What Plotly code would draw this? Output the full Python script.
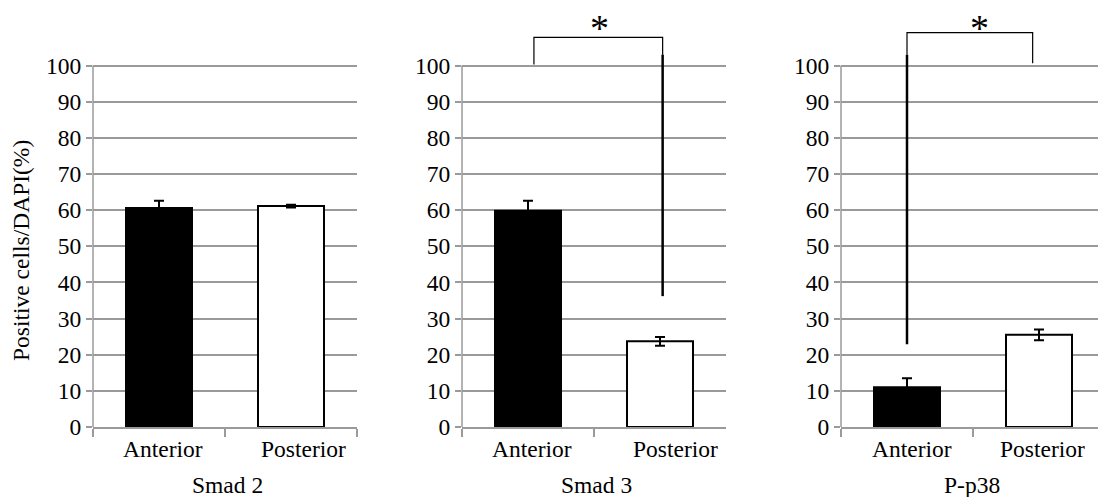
import plotly.graph_objects as go

# ---- data ----
categories = ["Anterior", "Posterior"]
panel_titles = ["Smad 2", "Smad 3", "P-p38"]
smad2_mean = [60.6, 61.1]
smad2_err = [2.0, 0.4]
smad3_mean = [59.8, 23.7]
smad3_err = [2.8, 1.2]
pp38_mean = [11.0, 25.5]
pp38_err = [2.5, 1.5]
y_ticks = [0, 10, 20, 30, 40, 50, 60, 70, 80, 90, 100]
y_title = "Positive cells/DAPI(%)"

# significance brackets: (x_left, x_right, y_top, y_left_bottom, y_right_bottom)
smad3_bracket = [0.045, 1.02, 107.8, 100.3, 103.0]
pp38_bracket = [0.0, 0.952, 109.1, 103.0, 100.6]
# stray vertical strokes: (x, y_top, y_bottom)
smad3_stroke = [1.02, 103.0, 36.2]
pp38_stroke = [0.0, 103.0, 22.9]
# asterisk positions (x, y)
smad3_star = [0.545, 110.5]
pp38_star = [0.551, 110.3]
# small stray dots (x, y, size)
pp38_dots_x = [0.242, 0.473]
pp38_dots_y = [105.6, 102.4]
pp38_dots_size = [2, 4]

means = [smad2_mean, smad3_mean, pp38_mean]
errs = [smad2_err, smad3_err, pp38_err]

FONT = "Liberation Serif"
FS = 23.5
GRID = "#9a9a9a"
W, H = 1098, 497
PLOT_H = 427
PX_PER_UNIT = 3.615
YMAX = PLOT_H / PX_PER_UNIT

domains = [[93 / W, 357 / W], [462 / W, 726 / W], [841 / W, 1.0]]
xranges = [[-0.5, 1.5], [-0.5, 1.5], [-0.5, 1.5 - 7 / 132]]
label_shift = [[4, 12], [4, 15], [5, 3]]

fig = go.Figure()
for i in range(3):
    ax = "" if i == 0 else str(i + 1)
    fig.add_trace(go.Bar(
        x=categories, y=means[i],
        xaxis="x" + ax, yaxis="y" + ax,
        width=0.5,
        marker=dict(color=["black", "white"], line=dict(color="black", width=2)),
        error_y=dict(type="data", array=errs[i], color="black", thickness=2, width=5),
        showlegend=False,
    ))
    fig.update_layout(**{
        "xaxis" + ax: dict(
            domain=domains[i], anchor="y" + ax, type="category",
            range=xranges[i], showline=True, linecolor=GRID, linewidth=1.5,
            ticks="outside", tickson="boundaries", ticklen=8, tickcolor=GRID, tickwidth=1.5,
            showgrid=False, showticklabels=False,
            fixedrange=True,
        ),
        "yaxis" + ax: dict(
            domain=[0, 1], anchor="x" + ax, range=[0, YMAX],
            tickmode="array", tickvals=y_ticks,
            showgrid=True, gridcolor=GRID, gridwidth=1.5,
            showline=False, zeroline=False,
            ticks="outside", ticklen=6, tickcolor=GRID, tickwidth=1.5,
            tickfont=dict(family=FONT, size=FS, color="black"),
            fixedrange=True,
        ),
    })
    # left axis line up to 100
    fig.add_shape(type="line", xref="x" + ax + " domain", yref="y" + ax,
                  x0=0, x1=0, y0=0, y1=100, line=dict(color=GRID, width=1.5))
    # category labels
    for c, cat in enumerate(categories):
        fig.add_annotation(text=cat, xref="x" + ax, yref="paper", x=cat,
                           y=(PLOT_H - 448.5) / PLOT_H, xanchor="center", yanchor="middle",
                           xshift=label_shift[i][c], showarrow=False,
                           font=dict(family=FONT, size=FS, color="black"))
    fig.add_annotation(text=panel_titles[i], xref="x" + ax + " domain", yref="paper",
                       x=0.5, y=(PLOT_H - 485) / PLOT_H, xanchor="center", yanchor="middle",
                       xshift=2, showarrow=False,
                       font=dict(family=FONT, size=FS, color="black"))

def bracket(ax, b):
    xl, xr, yt, ylb, yrb = b
    fig.add_shape(type="path", xref="x" + ax, yref="y" + ax,
                  path=f"M {xl},{ylb} L {xl},{yt} L {xr},{yt} L {xr},{yrb}",
                  line=dict(color="black", width=1.2))

def stroke(ax, s):
    x, y0, y1 = s
    fig.add_shape(type="line", xref="x" + ax, yref="y" + ax,
                  x0=x, x1=x, y0=y0, y1=y1, line=dict(color="black", width=2.5))

bracket("2", smad3_bracket)
bracket("3", pp38_bracket)
stroke("2", smad3_stroke)
stroke("3", pp38_stroke)

for ax, st in (("2", smad3_star), ("3", pp38_star)):
    fig.add_annotation(text="*", xref="x" + ax, yref="y" + ax, x=st[0], y=st[1],
                       xanchor="center", yanchor="middle",
                       showarrow=False, font=dict(family=FONT, size=38, color="black"))

fig.add_trace(go.Scatter(x=pp38_dots_x, y=pp38_dots_y, xaxis="x3", yaxis="y3",
                         mode="markers", marker=dict(color="black", size=pp38_dots_size, symbol="square"),
                         showlegend=False, hoverinfo="skip", cliponaxis=False))

fig.add_annotation(text=y_title, xref="paper", yref="paper", x=21 / W,
                   y=(PLOT_H - 251) / PLOT_H, textangle=-90, showarrow=False,
                   xanchor="center", yanchor="middle",
                   font=dict(family=FONT, size=FS, color="black"))

fig.update_layout(
    width=W, height=H,
    margin=dict(l=0, r=0, t=0, b=H - PLOT_H),
    paper_bgcolor="white", plot_bgcolor="white",
    bargap=0.5,
)

fig.write_html("out.html", config={"displayModeBar": False},
               post_script="document.body.style.margin='0';document.body.style.overflow='hidden';")
